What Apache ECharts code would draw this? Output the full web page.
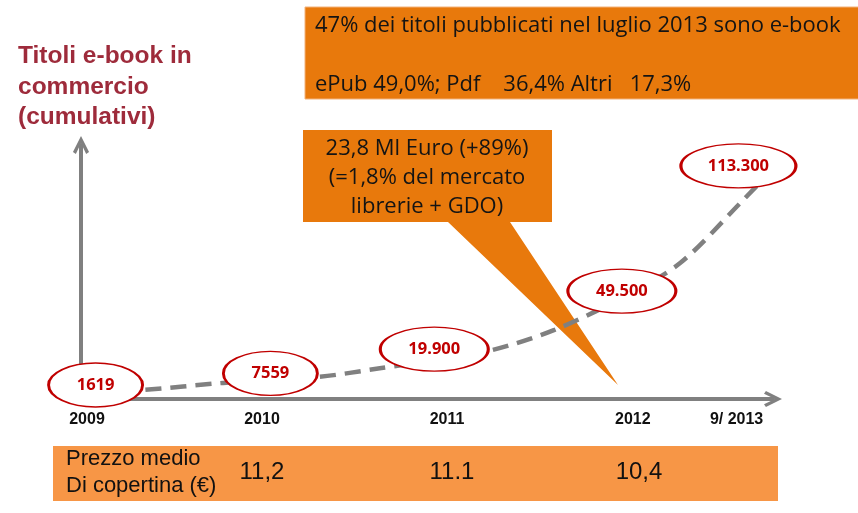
<!DOCTYPE html>
<html>
<head>
<meta charset="utf-8">
<script src="https://cdn.jsdelivr.net/npm/echarts@6/dist/echarts.min.js"></script>
<style>
html, body { margin: 0; padding: 0; background: #fff; }
#main { width: 858px; height: 513px; }
</style>
</head>
<body>
<div id="main"></div>
<script>
// titoli e-book in commercio (cumulativi), posizione sull'asse del tempo
var pointX = [0.08, 1.04, 1.94, 2.97, 3.61];
var pointValues = [1619, 7559, 19900, 49500, 113300];
var pointLabels = ['1619', '7559', '19.900', '49.500', '113.300'];

// curva tratteggiata di tendenza
var trendX = [0.08, 0.34, 0.78, 1.3, 1.65, 1.95, 2.26, 2.6, 2.97, 3.29, 3.62, 3.92];
var trendY = [-1900, -900, 2700, 5700, 10300, 14400, 19500, 29700, 46000, 63800, 94400, 123500];

// etichette dell'asse orizzontale
var yearPos = [0.033, 0.994, 2.01, 3.03, 3.6];
var yearLabels = ['2009', '2010', '2011', '2012', '9/ 2013'];

// prezzo medio di copertina
var priceLabels = ['11,2', '11.1', '10,4'];
var pricePos = [262, 452, 639];

var chevron = 'path://M0,10 L5,0 L10,10 L8.2,11.2 L5,4.4 L1.8,11.2 Z';

var chart = echarts.init(document.getElementById('main'));

var boxFont = '22px "Open Sans"';
var titleFont = 'bold 24.5px "Liberation Sans"';

var graphics = [
    // riquadro in alto
    { type: 'rect', shape: { x: 305, y: 7, width: 560, height: 92 },
      style: { fill: '#E8790C', stroke: '#F2B27A', lineWidth: 1 }, z: 1 },
    { type: 'text', x: 315, y: 26, z: 2,
      style: { text: '47% dei titoli pubblicati nel luglio 2013 sono e-book',
               font: boxFont, fill: '#141414', textVerticalAlign: 'middle' } },
    { type: 'text', x: 315, y: 85, z: 2,
      style: { text: 'ePub 49,0%; Pdf    36,4% Altri   17,3%',
               font: boxFont, fill: '#141414', textVerticalAlign: 'middle' } },
    // fumetto
    { type: 'polygon', z: 1,
      shape: { points: [[303, 130], [552, 130], [552, 222], [510, 222], [618, 385], [448, 222], [303, 222]] },
      style: { fill: '#E8790C' } },
    { type: 'text', x: 427, y: 149, z: 2,
      style: { text: '23,8 Ml Euro (+89%)', font: boxFont, fill: '#141414',
               textAlign: 'center', textVerticalAlign: 'middle' } },
    { type: 'text', x: 427, y: 178, z: 2,
      style: { text: '(=1,8% del mercato', font: boxFont, fill: '#141414',
               textAlign: 'center', textVerticalAlign: 'middle' } },
    { type: 'text', x: 427, y: 207, z: 2,
      style: { text: 'librerie + GDO)', font: boxFont, fill: '#141414',
               textAlign: 'center', textVerticalAlign: 'middle' } },
    // titolo asse verticale
    { type: 'text', x: 18, y: 56, z: 2,
      style: { text: 'Titoli e-book in', font: titleFont, fill: '#9E2B3B', textVerticalAlign: 'middle' } },
    { type: 'text', x: 18, y: 87, z: 2,
      style: { text: 'commercio', font: titleFont, fill: '#9E2B3B', textVerticalAlign: 'middle' } },
    { type: 'text', x: 18, y: 117, z: 2,
      style: { text: '(cumulativi)', font: titleFont, fill: '#9E2B3B', textVerticalAlign: 'middle' } },
    // barra del prezzo
    { type: 'rect', shape: { x: 53, y: 446, width: 725, height: 55 },
      style: { fill: '#F79646' }, z: 1 },
    { type: 'text', x: 66, y: 459, z: 2,
      style: { text: 'Prezzo medio', font: '22px "Liberation Sans"', fill: '#111', textVerticalAlign: 'middle' } },
    { type: 'text', x: 66, y: 486, z: 2,
      style: { text: 'Di copertina (\u20ac)', font: '22px "Liberation Sans"', fill: '#111', textVerticalAlign: 'middle' } }
];
priceLabels.forEach(function (t, i) {
    graphics.push({ type: 'text', x: pricePos[i], y: 472, z: 2,
        style: { text: t, font: '24px "Liberation Sans"', fill: '#111',
                 textAlign: 'center', textVerticalAlign: 'middle' } });
});

var option = {
    animation: false,
    grid: { left: 81, right: 85, top: 145, bottom: 114 },
    xAxis: {
        type: 'value',
        min: 0,
        max: 3.8,
        splitLine: { show: false },
        axisTick: { show: false },
        axisLine: {
            show: true,
            onZero: false,
            symbol: ['none', chevron],
            symbolSize: [20, 18],
            lineStyle: { color: '#808080', width: 4 }
        },
        axisLabel: {
            customValues: yearPos,
            margin: 13,
            fontSize: 16,
            fontWeight: 'bold',
            fontFamily: 'Liberation Sans',
            color: '#111',
            formatter: function (v) {
                var best = 0;
                for (var i = 1; i < yearPos.length; i++) {
                    if (Math.abs(yearPos[i] - v) < Math.abs(yearPos[best] - v)) best = i;
                }
                return yearLabels[best];
            }
        }
    },
    yAxis: {
        type: 'value',
        min: -5500,
        max: 124000,
        splitLine: { show: false },
        axisTick: { show: false },
        axisLabel: { show: false },
        axisLine: {
            show: true,
            onZero: false,
            symbol: ['none', chevron],
            symbolSize: [20, 18],
            lineStyle: { color: '#808080', width: 4 }
        }
    },
    series: [
        {
            type: 'line',
            smooth: 0.3,
            showSymbol: false,
            clip: false,
            z: 3,
            lineStyle: { color: '#808080', width: 4.5, type: [16, 9] },
            data: trendX.map(function (x, i) { return [x, trendY[i]]; })
        },
        {
            type: 'scatter',
            z: 5,
            symbol: 'circle',
            symbolSize: function (v, p) { return [pointLabels[p.dataIndex].length * 7 + 66, 44]; },
            itemStyle: { color: '#fff', borderColor: '#C00000', borderWidth: 2, opacity: 1 },
            label: {
                show: true,
                position: 'inside',
                fontSize: 16.5,
                fontWeight: 'bold',
                fontFamily: 'Noto Sans',
                color: '#C00000',
                formatter: function (p) { return pointLabels[p.dataIndex]; }
            },
            data: pointX.map(function (x, i) { return [x, pointValues[i]]; })
        }
    ],
    graphic: graphics
};

chart.setOption(option);
</script>
</body>
</html>
